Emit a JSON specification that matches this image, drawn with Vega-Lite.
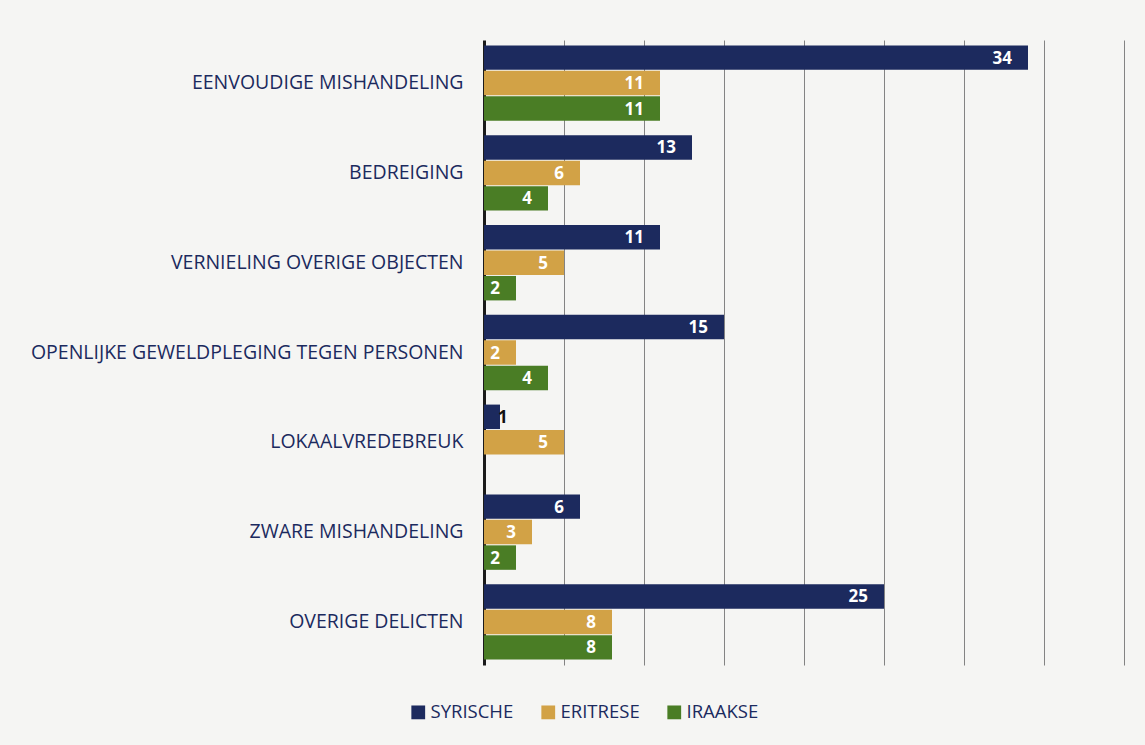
{
  "$schema": "https://vega.github.io/schema/vega-lite/v6.json",
  "width": 640,
  "height": 625,
  "autosize": {"type": "none"},
  "padding": {"left": 484, "top": 40, "right": 21, "bottom": 80},
  "background": "#f5f5f3",
  "config": {
    "view": {"stroke": null},
    "font": "Open Sans"
  },
  "data": {
    "values": [
      {"delict": "EENVOUDIGE MISHANDELING", "groep": "SYRISCHE", "aantal": 34},
      {"delict": "EENVOUDIGE MISHANDELING", "groep": "ERITRESE", "aantal": 11},
      {"delict": "EENVOUDIGE MISHANDELING", "groep": "IRAAKSE", "aantal": 11},
      {"delict": "BEDREIGING", "groep": "SYRISCHE", "aantal": 13},
      {"delict": "BEDREIGING", "groep": "ERITRESE", "aantal": 6},
      {"delict": "BEDREIGING", "groep": "IRAAKSE", "aantal": 4},
      {"delict": "VERNIELING OVERIGE OBJECTEN", "groep": "SYRISCHE", "aantal": 11},
      {"delict": "VERNIELING OVERIGE OBJECTEN", "groep": "ERITRESE", "aantal": 5},
      {"delict": "VERNIELING OVERIGE OBJECTEN", "groep": "IRAAKSE", "aantal": 2},
      {"delict": "OPENLIJKE GEWELDPLEGING TEGEN PERSONEN", "groep": "SYRISCHE", "aantal": 15},
      {"delict": "OPENLIJKE GEWELDPLEGING TEGEN PERSONEN", "groep": "ERITRESE", "aantal": 2},
      {"delict": "OPENLIJKE GEWELDPLEGING TEGEN PERSONEN", "groep": "IRAAKSE", "aantal": 4},
      {"delict": "LOKAALVREDEBREUK", "groep": "SYRISCHE", "aantal": 1},
      {"delict": "LOKAALVREDEBREUK", "groep": "ERITRESE", "aantal": 5},
      {"delict": "ZWARE MISHANDELING", "groep": "SYRISCHE", "aantal": 6},
      {"delict": "ZWARE MISHANDELING", "groep": "ERITRESE", "aantal": 3},
      {"delict": "ZWARE MISHANDELING", "groep": "IRAAKSE", "aantal": 2},
      {"delict": "OVERIGE DELICTEN", "groep": "SYRISCHE", "aantal": 25},
      {"delict": "OVERIGE DELICTEN", "groep": "ERITRESE", "aantal": 8},
      {"delict": "OVERIGE DELICTEN", "groep": "IRAAKSE", "aantal": 8}
    ]
  },
  "encoding": {
    "y": {
      "field": "delict",
      "type": "nominal",
      "sort": null,
      "scale": {"paddingInner": 0.16, "paddingOuter": 0.06},
      "axis": {
        "title": null,
        "labelFont": "Open Sans",
        "labelFontSize": 19.5,
        "labelColor": "#1b2a5e",
        "labelPadding": 21,
        "labelLimit": 480,
        "ticks": false,
        "domain": true,
        "domainColor": "#1a1a1a",
        "domainWidth": 3
      }
    },
    "yOffset": {
      "field": "groep",
      "type": "nominal",
      "sort": ["SYRISCHE", "ERITRESE", "IRAAKSE"],
      "scale": {"domain": ["SYRISCHE", "ERITRESE", "IRAAKSE"], "paddingInner": 0.04}
    },
    "x": {
      "field": "aantal",
      "type": "quantitative",
      "scale": {"domain": [0, 40], "nice": false},
      "axis": {
        "title": null,
        "values": [5, 10, 15, 20, 25, 30, 35, 40],
        "labels": false,
        "ticks": false,
        "domain": false,
        "grid": true,
        "gridColor": "#666666",
        "gridWidth": 1,
        "gridOpacity": 0.8
      }
    }
  },
  "layer": [
    {
      "mark": {"type": "bar"},
      "encoding": {
        "color": {
          "field": "groep",
          "type": "nominal",
          "sort": ["SYRISCHE", "ERITRESE", "IRAAKSE"],
          "scale": {
            "domain": ["SYRISCHE", "ERITRESE", "IRAAKSE"],
            "range": ["#1c2a5e", "#d2a246", "#4a7d25"]
          },
          "legend": {
            "title": null,
            "orient": "none",
            "legendX": -75,
            "legendY": 663,
            "direction": "horizontal",
            "symbolType": "square",
            "symbolSize": 190,
            "symbolStrokeWidth": 0,
            "labelFont": "Open Sans",
            "labelFontSize": 18.5,
            "labelColor": "#1b2a5e",
            "labelOffset": 3,
            "columnPadding": 25
          }
        }
      }
    },
    {
      "transform": [{"filter": "datum.aantal >= 2"}],
      "mark": {
        "type": "text",
        "align": "right",
        "baseline": "middle",
        "dx": -16,
        "dy": 1,
        "fontSize": 17,
        "fontWeight": "bold",
        "font": "Open Sans",
        "color": "#ffffff"
      },
      "encoding": {
        "text": {"field": "aantal", "type": "quantitative"}
      }
    },
    {
      "transform": [{"filter": "datum.aantal < 2"}],
      "mark": {
        "type": "text",
        "align": "left",
        "baseline": "middle",
        "dx": -2,
        "dy": 1,
        "fontSize": 17,
        "fontWeight": "bold",
        "font": "Open Sans",
        "color": "#111111"
      },
      "encoding": {
        "text": {"field": "aantal", "type": "quantitative"}
      }
    }
  ]
}
